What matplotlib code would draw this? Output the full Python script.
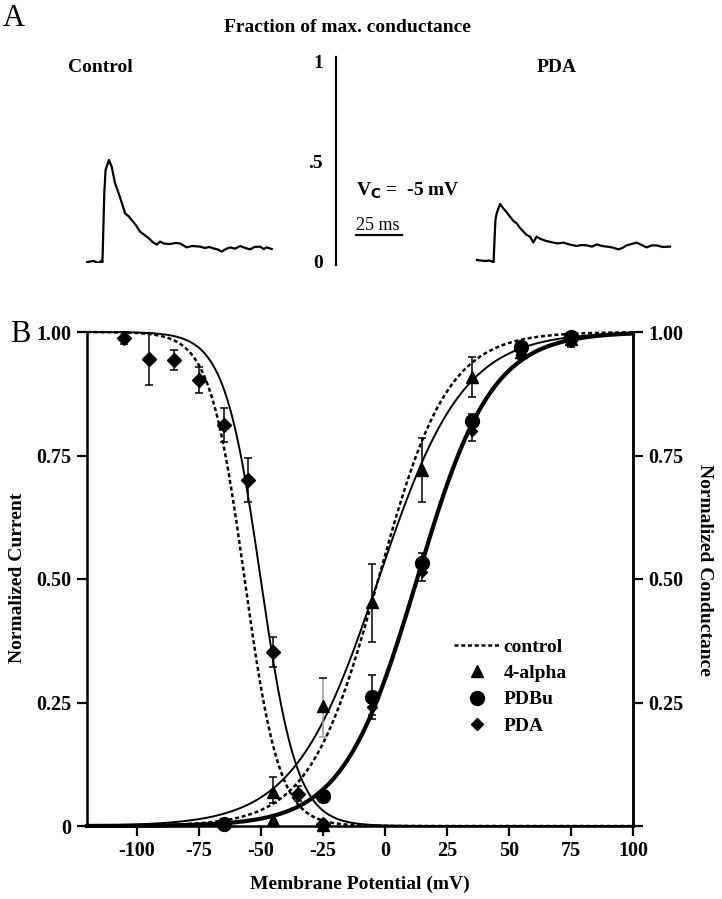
import numpy as np
import matplotlib
matplotlib.use("Agg")
import matplotlib.pyplot as plt
from matplotlib.lines import Line2D

plt.rcParams['font.family'] = ['Liberation Serif', 'DejaVu Serif']
plt.rcParams['font.weight'] = 'bold'

# ---- panel A traces (time in ms from trace start, fraction of max conductance)
ctrl_t = [0, 2, 3.6, 5, 6.2, 8.0, 8.3, 9.4, 10.1, 11.9, 13.4, 15.2, 17.9, 20.7, 22.5,
          24.3, 26.5, 28.8, 32.4, 34.0, 36.0, 38.0, 39.7, 42.0, 45.1, 48.0, 50.5, 54.2,
          57.0, 61.4, 64.0, 66.5, 68.6, 71.0, 73.2, 75.5, 77.7, 80.5, 83.2, 86.0, 88.6,
          91.0, 94.0, 96.0, 97.7, 100.4]
ctrl_g = [0.004, 0.008, 0.01, 0.004, 0.0, 0.012, -0.03, 0.35, 0.465, 0.515, 0.482, 0.40,
          0.33, 0.248, 0.235, 0.215, 0.19, 0.157, 0.132, 0.12, 0.102, 0.092, 0.107, 0.097,
          0.095, 0.1, 0.098, 0.078, 0.085, 0.082, 0.075, 0.08, 0.073, 0.068, 0.057, 0.07,
          0.078, 0.072, 0.085, 0.075, 0.068, 0.08, 0.082, 0.07, 0.078, 0.07]

pda_t = [0, 2.5, 4.5, 6.5, 8.5, 8.9, 10.0, 10.7, 12.5, 14.3, 16.0, 17.9, 19.8, 21.6, 23.4,
         25.2, 27.0, 28.8, 30.6, 32.4, 34.2, 36.0, 38.5, 41.5, 44.0, 46.9, 50.5, 54.2,
         57.0, 59.6, 62.5, 65.1, 68.0, 70.5, 73.5, 76.8, 79.0, 81.3, 84.0, 86.8, 89.5,
         92.2, 95.0, 97.6, 101.0, 104.9]
pda_g = [0.015, 0.012, 0.01, 0.012, 0.007, -0.015, 0.215, 0.248, 0.295, 0.273, 0.255,
         0.232, 0.21, 0.198, 0.175, 0.157, 0.14, 0.132, 0.103, 0.132, 0.122, 0.115, 0.108,
         0.102, 0.098, 0.102, 0.092, 0.085, 0.09, 0.088, 0.082, 0.093, 0.085, 0.082, 0.078,
         0.068, 0.075, 0.088, 0.095, 0.102, 0.09, 0.078, 0.088, 0.088, 0.08, 0.082]

# ---- panel B data (membrane potential mV, normalized value)
pda_inact_v = [-105, -95, -85, -75, -65, -55, -45, -35, -25]
pda_inact_y = [0.988, 0.945, 0.943, 0.903, 0.812, 0.70, 0.352, 0.065, 0.004]
pda_inact_err = [0.012, 0.052, 0.02, 0.026, 0.035, 0.045, 0.03, 0.015, 0.0]

alpha_v = [-45, -25, -5, 15, 35, 55, 75]
alpha_y = [0.069, 0.243, 0.453, 0.72, 0.909, 0.96, 0.985]
alpha_lo = [0.022, 0.063, 0.08, 0.064, 0.04, 0.01, 0.01]
alpha_hi = [0.031, 0.057, 0.077, 0.065, 0.04, 0.01, 0.005]

pdbu_v = [-65, -25, -5, 15, 35, 55, 75]
pdbu_y = [0.004, 0.06, 0.261, 0.532, 0.82, 0.97, 0.99]
pdbu_err = [0.0, 0.01, 0.045, 0.02, 0.015, 0.01, 0.005]

pda_act_v = [-5, 15, 35, 55, 75]
pda_act_y = [0.24, 0.515, 0.80, 0.955, 0.98]
pda_act_err = [0.015, 0.02, 0.02, 0.01, 0.01]

low_v = [-45, -25]
low_y = [0.012, 0.002]

# Boltzmann fits (V half, slope k)
ctrl_inact_fit = (-56.5, 7.0)
pda_inact_fit = (-50.0, 7.3)
ctrl_act_fit = (-2.6, 13.9)
alpha_act_fit = (-2.5, 17.0)
pdbu_act_fit = (13.0, 15.0)

xticks = [-100, -75, -50, -25, 0, 25, 50, 75, 100]
yticks = [0, 0.25, 0.5, 0.75, 1.0]
yticklabels = ['0', '0.25', '0.50', '0.75', '1.00']

W, H = 722, 899
fig = plt.figure(figsize=(W / 100, H / 100), dpi=100)

# ---------------- panel A ----------------
ms_per_px = 1 / 1.84
axA = fig.add_axes([0, 1 - 263 / H, 1, 200 / H])
axA.set_xlim(0, W * ms_per_px)
axA.set_ylim(0, 1)
axA.axis('off')
t0_ctrl = 87 * ms_per_px
t0_pda = 477 * ms_per_px
axA.plot(np.array(ctrl_t) + t0_ctrl, ctrl_g, color='black', lw=1.6)
axA.plot(np.array(pda_t) + t0_pda, pda_g, color='black', lw=1.6)
bar_t = 336 * ms_per_px
axA.plot([bar_t, bar_t], [-0.01, 1.03], color='black', lw=1.6, clip_on=False)
sb0 = 356 * ms_per_px
axA.plot([sb0, sb0 + 25], [0.14, 0.14], color='black', lw=1.6)
for val, lab in [(1, '1'), (0.5, '.5'), (0, '0')]:
    axA.text(323 * ms_per_px, val, lab, ha='right', va='center', fontsize=14)
axA.text(356 * ms_per_px, 0.36, r'V$_\mathbf{C}$ =  -5 mV', ha='left', va='center',
         fontsize=14)
axA.text(356 * ms_per_px, 0.19, '25 ms', ha='left', va='center', fontsize=13,
         fontweight='normal')

fig.text(14 / W, 1 - 18 / H, 'A', fontsize=22, fontweight='normal', ha='center', va='center')
fig.text(347 / W, 1 - 28 / H, 'Fraction of max. conductance', fontsize=14,
         ha='center', va='center')
fig.text(100 / W, 1 - 67 / H, 'Control', fontsize=14, ha='center', va='center')
fig.text(557 / W, 1 - 67 / H, 'PDA', fontsize=14, ha='center', va='center')
fig.text(20 / W, 1 - 335 / H, 'B', fontsize=22, fontweight='normal', ha='center', va='center')

# ---------------- panel B ----------------
axB = fig.add_axes([87 / W, 1 - 826 / H, 546 / W, 494 / H])
V = np.linspace(-120, 100, 600)


def inact(p):
    return 1 / (1 + np.exp((V - p[0]) / p[1]))


def act(p):
    return 1 / (1 + np.exp((p[0] - V) / p[1]))


dash = (0, (1.6, 1.1))
axB.plot(V, inact(ctrl_inact_fit), color='black', lw=1.8, ls=dash, clip_on=False)
axB.plot(V, act(ctrl_act_fit), color='black', lw=1.8, ls=dash, clip_on=False)
axB.plot(V, inact(pda_inact_fit), color='black', lw=1.4, clip_on=False)
axB.plot(V, act(alpha_act_fit), color='black', lw=1.4, clip_on=False)
axB.plot(V, act(pdbu_act_fit), color='black', lw=3.0, clip_on=False)

ekw = dict(ecolor='black', elinewidth=1.1, capsize=3, capthick=1.1, ls='none',
           color='black', clip_on=False)
axB.errorbar(pda_inact_v, pda_inact_y, yerr=pda_inact_err, fmt='D', ms=7, **ekw)
axB.errorbar(pda_act_v, pda_act_y, yerr=pda_act_err, fmt='D', ms=5, **ekw)
axB.errorbar(pdbu_v, pdbu_y, yerr=pdbu_err, fmt='o', ms=10, **ekw)
alpha_err = np.array([alpha_lo, alpha_hi])
eb = axB.errorbar(alpha_v, alpha_y, yerr=alpha_err, fmt='^', ms=9, **ekw)
# the -25 mV error bar is drawn in grey
for coll in eb[2]:
    cols = ['black'] * len(alpha_v)
    cols[1] = '#999999'
    coll.set_color(cols)
for cap in eb[1]:
    cap.set_visible(False)
axB.plot(alpha_v, np.array(alpha_y) + alpha_err[1], ls='none', marker='_', ms=6,
         mew=1.1, color='black')
axB.plot([v for i, v in enumerate(alpha_v) if i != 1],
         [y - e for i, (y, e) in enumerate(zip(alpha_y, alpha_lo)) if i != 1],
         ls='none', marker='_', ms=6, mew=1.1, color='black')
axB.plot([alpha_v[1]], [alpha_y[1] - alpha_lo[1]], ls='none', marker='_', ms=6,
         mew=1.1, color='#999999')
axB.plot(low_v, low_y, ls='none', marker='^', ms=8, color='black', clip_on=False)

axB.set_xlim(-120, 100)
axB.set_ylim(0, 1)
axB.set_xticks(xticks)
axB.set_xticklabels([str(x) for x in xticks], fontsize=14.5)
axB.set_yticks(yticks)
axB.set_yticklabels(yticklabels, fontsize=14.5)
axB.tick_params(direction='out', length=7, width=1.6, pad=4)
axB.spines['top'].set_visible(False)
for s in ['left', 'right', 'bottom']:
    axB.spines[s].set_linewidth(1.8)

axR = axB.twinx()
axR.set_ylim(0, 1)
axR.set_yticks(yticks)
axR.set_yticklabels([''] + yticklabels[1:], fontsize=14.5)
axR.tick_params(direction='out', length=7, width=1.6, pad=4)
axR.spines['top'].set_visible(False)
axR.spines['right'].set_linewidth(1.8)

fig.text(18 / W, 1 - 578 / H, 'Normalized Current', rotation=90, fontsize=14,
         ha='center', va='center')
fig.text(705 / W, 1 - 570 / H, 'Normalized Conductance', rotation=270, fontsize=14,
         ha='center', va='center')
fig.text(360 / W, 1 - 884 / H, 'Membrane Potential (mV)', fontsize=14,
         ha='center', va='center')

handles = [Line2D([], [], color='black', lw=1.8, ls=dash),
           Line2D([], [], color='black', marker='^', ls='none', ms=9),
           Line2D([], [], color='black', marker='o', ls='none', ms=10),
           Line2D([], [], color='black', marker='D', ls='none', ms=6)]
labels = ['control', '4-alpha', 'PDBu', 'PDA']
axR.legend(handles, labels, loc='upper left', frameon=False, fontsize=14,
           bbox_to_anchor=((454 - 87) / 546, (826 - 638) / 494), borderpad=0,
           borderaxespad=0, handlelength=2.4, handletextpad=0.15, labelspacing=0.45)

fig.savefig('out.png', dpi=100)
